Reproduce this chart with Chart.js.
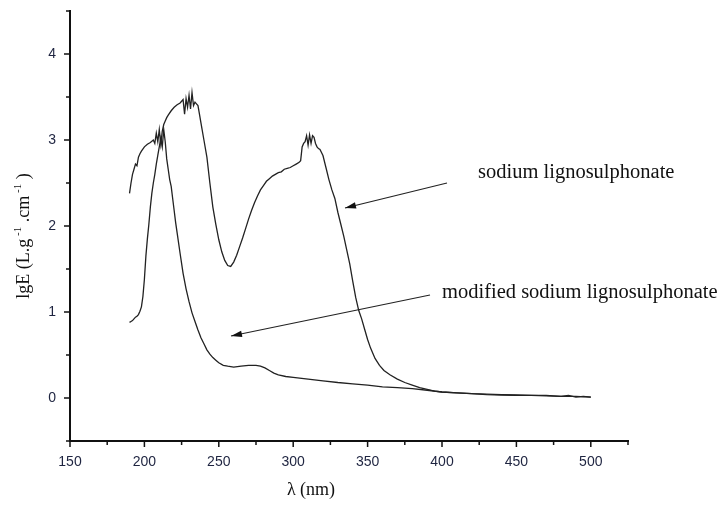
<!DOCTYPE html>
<html><head><meta charset="utf-8">
<script src="https://cdn.jsdelivr.net/npm/chart.js@4"></script>
<style>html,body{margin:0;padding:0;background:#fff}#wrap{width:720px;height:508px;position:relative}</style>
</head><body><div id="wrap"><canvas id="c" width="720" height="508"></canvas></div>
<script>
// sodium lignosulphonate
const slX = [190,191,192,193,194,195,196,197,198,200,202,204,206,207,208,209,210,211,212,213,214,215,216,218,220,222,224,225,226,227,228,229,230,231,232,233,234,235,236,237,238,240,242,244,246,248,250,252,254,256,258,260,262,264,266,268,270,272,274,276,278,280,282,284,286,288,290,292,294,296,298,300,302,304,305,306,307,308,309,310,311,312,313,314,315,316,317,318,320,322,324,326,328,330,332,334,336,338,340,342,344,346,348,350,352,355,358,361,365,370,375,380,385,390,395,400,410,420,430,440,450,460,470,480,485,490,495,500];
const slY = [2.38,2.50,2.60,2.66,2.72,2.70,2.80,2.84,2.87,2.92,2.95,2.97,3.00,2.96,3.08,2.98,3.12,2.95,3.10,3.18,3.22,3.26,3.29,3.34,3.38,3.41,3.43,3.45,3.47,3.30,3.48,3.38,3.52,3.36,3.55,3.40,3.44,3.42,3.40,3.30,3.20,3.00,2.80,2.50,2.22,2.02,1.84,1.70,1.60,1.54,1.53,1.58,1.66,1.76,1.86,1.97,2.08,2.18,2.27,2.35,2.42,2.47,2.52,2.55,2.58,2.60,2.62,2.63,2.66,2.67,2.68,2.70,2.72,2.74,2.76,2.92,2.96,2.98,3.05,2.94,3.06,2.96,3.05,3.03,2.96,2.92,2.90,2.89,2.82,2.68,2.54,2.42,2.32,2.16,2.02,1.88,1.72,1.56,1.36,1.17,1.02,0.92,0.80,0.68,0.58,0.46,0.38,0.32,0.27,0.22,0.18,0.15,0.12,0.10,0.08,0.07,0.06,0.05,0.04,0.035,0.03,0.03,0.025,0.02,0.03,0.01,0.02,0.01];
// modified sodium lignosulphonate
const mslX = [190,191,192,193,194,195,196,197,198,199,200,201,202,203,204,205,206,207,208,209,210,211,212,213,214,215,216,217,218,219,220,221,222,224,226,228,230,232,234,236,238,240,242,244,246,248,250,253,256,260,265,270,275,278,281,284,287,290,295,300,310,320,330,340,350,360,370,380,390,400,410,420,430,440,450,460,470,480,490,500];
const mslY = [0.88,0.89,0.90,0.92,0.94,0.95,0.97,1.01,1.06,1.18,1.38,1.65,1.85,2.02,2.22,2.38,2.50,2.60,2.72,2.82,2.92,3.02,2.92,3.12,2.98,2.78,2.66,2.54,2.46,2.32,2.18,2.04,1.92,1.68,1.45,1.27,1.12,0.99,0.89,0.79,0.70,0.63,0.56,0.51,0.47,0.44,0.41,0.38,0.37,0.36,0.37,0.38,0.38,0.37,0.35,0.32,0.29,0.27,0.25,0.24,0.22,0.20,0.18,0.165,0.15,0.13,0.12,0.11,0.09,0.07,0.06,0.05,0.045,0.04,0.035,0.03,0.03,0.02,0.02,0.01];

const seriesNames = ['sodium lignosulphonate', 'modified sodium lignosulphonate'];
const xMajorTicks = [150,200,250,300,350,400,450,500];
const xMinorTicks = [175,225,275,325,375,425,475,525];
const yMajorTicks = [0,1,2,3,4];
const yMinorTicks = [-0.5,0.5,1.5,2.5,3.5,4.5];
const xTitle = 'λ (nm)';

const INK = '#111';
const LABEL = '#1e2440';

function pts(xs, ys){ return xs.map((x,i)=>({x:x, y:ys[i]})); }

const decor = {
  id:'decor',
  afterDraw(chart){
    const ctx = chart.ctx, xs = chart.scales.x, ys = chart.scales.y, a = chart.chartArea;
    ctx.save();
    ctx.strokeStyle = INK; ctx.lineWidth = 1.5;
    const tick = (v, len, isX) => {
      ctx.beginPath();
      if (isX){ const p = xs.getPixelForValue(v); ctx.moveTo(p, a.bottom); ctx.lineTo(p, a.bottom + len); }
      else { const p = ys.getPixelForValue(v); ctx.moveTo(a.left, p); ctx.lineTo(a.left - len, p); }
      ctx.stroke();
    };
    xMajorTicks.forEach(v=>tick(v,6,true));
    xMinorTicks.forEach(v=>tick(v,4,true));
    yMajorTicks.forEach(v=>tick(v,6,false));
    yMinorTicks.forEach(v=>tick(v,4,false));

    // x title
    ctx.fillStyle = '#111';
    ctx.font = '18px "Liberation Serif", "Times New Roman", serif';
    ctx.textAlign = 'center'; ctx.textBaseline = 'alphabetic';
    ctx.fillText(xTitle, 311, 495);

    // y title (rotated)
    ctx.save();
    ctx.translate(29, 236);
    ctx.rotate(-Math.PI/2);
    const mainF = '18px "Liberation Serif", "Times New Roman", serif';
    const supF = '11px "Liberation Serif", "Times New Roman", serif';
    const parts = [['lgE (L.g', mainF, 0], [' -1', supF, -8], [' .cm', mainF, 0], [' -1', supF, -8], [' )', mainF, 0]];
    let total = 0;
    parts.forEach(p=>{ ctx.font = p[1]; total += ctx.measureText(p[0]).width; });
    let x0 = -total/2;
    ctx.textAlign = 'left';
    parts.forEach(p=>{ ctx.font = p[1]; ctx.fillText(p[0], x0, p[2]); x0 += ctx.measureText(p[0]).width; });
    ctx.restore();

    // annotations
    ctx.font = '20.5px "Liberation Serif", "Times New Roman", serif';
    ctx.textAlign = 'left';
    ctx.fillText(seriesNames[0], 478, 178);
    ctx.fillText(seriesNames[1], 442, 298);

    const arrow = (x1,y1,x2,y2) => {
      ctx.strokeStyle = '#222'; ctx.lineWidth = 1.2;
      ctx.beginPath(); ctx.moveTo(x1,y1); ctx.lineTo(x2,y2); ctx.stroke();
      const ang = Math.atan2(y2-y1, x2-x1), L = 11, W = 3.2;
      const bx = x2 - L*Math.cos(ang), by = y2 - L*Math.sin(ang);
      ctx.fillStyle = '#111';
      ctx.beginPath();
      ctx.moveTo(x2,y2);
      ctx.lineTo(bx + W*Math.sin(ang), by - W*Math.cos(ang));
      ctx.lineTo(bx - W*Math.sin(ang), by + W*Math.cos(ang));
      ctx.closePath(); ctx.fill();
    };
    arrow(447,183,345,208);
    arrow(430,295,231,336);
    ctx.restore();
  }
};

new Chart(document.getElementById('c'), {
  type:'line',
  data:{ datasets:[
    { label: seriesNames[0], data: pts(slX, slY), borderColor:'#222', borderWidth:1.3, pointRadius:0, tension:0, fill:false },
    { label: seriesNames[1], data: pts(mslX, mslY), borderColor:'#222', borderWidth:1.3, pointRadius:0, tension:0, fill:false }
  ]},
  options:{
    responsive:false, animation:false, devicePixelRatio:1,
    layout:{ padding:{ left:0, top:11, right:92, bottom:0 } },
    plugins:{ legend:{display:false}, tooltip:{enabled:false}, title:{display:false} },
    scales:{
      x:{ type:'linear', min:150, max:525,
        afterBuildTicks:(s)=>{ s.ticks = xMajorTicks.concat(xMinorTicks).sort((a,b)=>a-b).map(v=>({value:v})); },
        afterFit:(s)=>{ s.height = 67; s.paddingLeft = 0; s.paddingRight = 0; s.paddingTop = 0; s.paddingBottom = 0; },
        grid:{ display:false, drawTicks:false },
        border:{ display:true, color:INK, width:2 },
        ticks:{ autoSkip:false, maxRotation:0, padding:13, color:LABEL,
          font:{ family:'"Liberation Sans", Arial, sans-serif', size:14 },
          callback:(v)=> xMajorTicks.includes(v) ? String(v) : '' }
      },
      y:{ type:'linear', min:-0.5, max:4.5,
        afterBuildTicks:(s)=>{ s.ticks = yMajorTicks.concat(yMinorTicks).sort((a,b)=>a-b).map(v=>({value:v})); },
        afterFit:(s)=>{ s.width = 70; s.paddingTop = 0; s.paddingBottom = 0; s.paddingLeft = 0; s.paddingRight = 0; },
        grid:{ display:false, drawTicks:false },
        border:{ display:true, color:INK, width:2 },
        ticks:{ autoSkip:false, padding:14, color:LABEL,
          font:{ family:'"Liberation Sans", Arial, sans-serif', size:14 },
          callback:(v)=> yMajorTicks.includes(v) ? String(v) : '' }
      }
    }
  },
  plugins:[decor]
});
</script>
</body></html>
